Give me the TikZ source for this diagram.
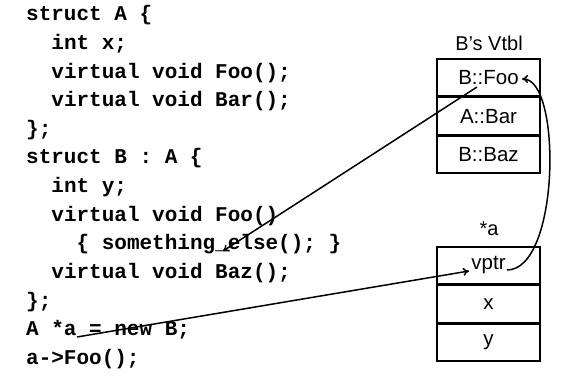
\documentclass[tikz,border=0pt]{standalone}
\usepackage{fontspec}
\setmainfont{Liberation Sans}
\setmonofont{Liberation Mono}
\usetikzlibrary{arrows.meta}
\begin{document}
\begin{tikzpicture}[x=1pt,y=-1pt,
  code/.style={anchor=base west,inner sep=0pt,
    font=\ttfamily\bfseries\fontsize{21}{25}\selectfont},
  label/.style={inner sep=0pt,font=\fontsize{20}{24}\selectfont},
  cell/.style={draw,line width=1.6pt,minimum width=103pt,minimum height=37pt,
    inner sep=0pt,font=\fontsize{20.5}{24}\selectfont},
  ptr/.style={line width=1.5pt,-{To[length=6pt,width=8pt]}}]
\useasboundingbox (0,0) rectangle (562,382);

% source listing
\def\ls{28.6}
\node[code] (l1)  at (26,21)            {struct A \{};
\node[code] (l2)  at (51.2,21+1*\ls)    {int x;};
\node[code] (l3)  at (51.2,21+2*\ls)    {virtual void Foo();};
\node[code] (l4)  at (51.2,21+3*\ls)    {virtual void Bar();};
\node[code] (l5)  at (26,21+4*\ls)      {\};};
\node[code] (l6)  at (26,21+5*\ls)      {struct B : A \{};
\node[code] (l7)  at (51.2,21+6*\ls)    {int y;};
\node[code] (l8)  at (51.2,21+7*\ls)    {virtual void Foo()};
\node[code] (l9)  at (76.4,21+8*\ls)    {\{ something\_else(); \}};
\node[code] (l10) at (51.2,21+9*\ls)    {virtual void Baz();};
\node[code] (l11) at (26,21+10*\ls)     {\};};
\node[code] (l12) at (26,21+11*\ls)     {A *a = new B;};
\node[code] (l13) at (26,21+12*\ls)     {a->Foo();};

% B's virtual table
\node[label] (vtblname) at (489,43) {B’s Vtbl};
\node[cell] (foo) at (488.5,77.5) {B::Foo};
\node[cell,anchor=north] (bar) at (foo.south) {A::Bar};
\node[cell,anchor=north] (baz) at (bar.south) {B::Baz};

% the object *a
\node[label] (objname) at (489,229) {*a};
\node[cell] (vptr) at (488.5,265.5) {vptr};
\node[cell,anchor=north] (fx) at (vptr.south) {x};
\node[cell,anchor=north] (fy) at (fx.south) {y};

% connector end points inside the text
\coordinate (fooSrc) at (477,87);
\coordinate (elseDst) at (223,251);
\coordinate (aSrc) at (77,337);
\coordinate (vptrDst) at (469,271);
\coordinate (vptrSrc) at (507,270);
\coordinate (fooDst) at (522,79);

\draw[ptr] (fooSrc) -- (elseDst);
\draw[ptr] (aSrc) -- (vptrDst);
\draw[ptr] (vptrSrc) .. controls (560,270) and (562,79) .. (fooDst);
\end{tikzpicture}
\end{document}
